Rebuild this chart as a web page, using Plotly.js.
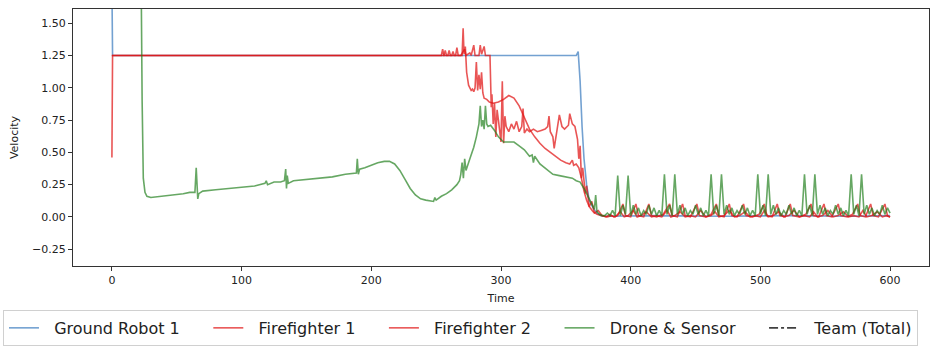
<!DOCTYPE html>
<html>
<head>
<meta charset="utf-8">
<script src="https://cdn.plot.ly/plotly-3.0.1.min.js"></script>
<style>
  body { margin: 0; background: #fff; }
  #chart { width: 938px; height: 348px; }
</style>
</head>
<body>
<div id="chart"></div>
<script>
// series (time in s, velocity)
var robotTime = [0, 0.5, 100, 200, 300, 358, 359.5, 361, 362.5, 364, 366, 368, 371, 374, 377, 380, 420, 470, 520, 570, 600];
var robotVel  = [1.8, 1.25, 1.25, 1.25, 1.25, 1.25, 1.28, 1.05, 0.7, 0.45, 0.25, 0.13, 0.07, 0.03, 0.01, 0.005, 0.01, 0.005, 0.01, 0.005, 0.01];

var ff1Time = [0, 0.5, 100, 200, 254, 255, 256, 259, 260, 261, 265, 266, 267, 270, 270.8, 271.5, 272.5, 273.5, 275, 276, 277, 278, 279, 280, 281, 282, 283, 284, 285, 286, 287, 289, 291, 294, 298, 302, 306, 310, 314, 318, 322, 326, 330, 334, 338, 342, 346, 350, 353, 355, 356, 358, 360, 362, 364, 366, 368, 371, 374, 378,
  381, 384, 387, 390, 394, 396, 400, 404, 406, 410, 414, 416, 420, 425, 430, 432, 436, 440, 442, 446, 451, 453, 458, 462, 466, 468, 472, 476, 478, 482, 487, 489, 494, 499, 503, 505, 509, 513, 515, 519, 523, 525, 530, 535, 539, 541, 545, 549, 551, 555, 560, 562, 567, 571, 575, 577, 581, 585, 587, 591, 596, 598, 600];
var ff1Vel  = [0.46, 1.25, 1.25, 1.25, 1.25, 1.3, 1.25, 1.25, 1.29, 1.25, 1.25, 1.31, 1.25, 1.25, 1.46, 1.26, 1.32, 1.12, 1.02, 1.0, 0.98, 0.99, 0.97, 1.0, 1.2, 0.98, 1.1, 0.99, 1.12, 0.96, 0.92, 0.91, 0.89, 0.88, 0.89, 0.91, 0.94, 0.92, 0.86, 0.77, 0.68, 0.62, 0.57, 0.53, 0.5, 0.47, 0.44, 0.42, 0.41, 0.44, 0.4, 0.41, 0.38, 0.3, 0.2, 0.13, 0.08, 0.04, 0.02, 0.01,
  0.0, 0.02, 0.0, 0.01, 0.1, 0.01, 0.0, 0.1, 0.01, 0.0, 0.1, 0.01, 0.0, 0.02, 0.1, 0.01, 0.0, 0.1, 0.01, 0.0, 0.1, 0.01, 0.0, 0.02, 0.1, 0.01, 0.0, 0.1, 0.01, 0.0, 0.1, 0.01, 0.0, 0.02, 0.1, 0.01, 0.0, 0.1, 0.01, 0.0, 0.1, 0.01, 0.0, 0.02, 0.1, 0.01, 0.0, 0.1, 0.01, 0.0, 0.1, 0.01, 0.0, 0.02, 0.1, 0.01, 0.0, 0.1, 0.01, 0.0, 0.1, 0.01, 0.0];

var ff2Time = [0, 100, 200, 256, 257, 258, 262, 263, 264, 269, 272, 273, 276, 277, 279, 280, 283, 284, 285, 287, 288, 291.5, 292.5, 293, 294, 295, 296, 297, 298, 299, 300, 301, 302, 303, 304, 306, 308, 310, 312, 314, 316, 317, 318, 320, 322, 325, 328, 331, 334, 336, 337, 338, 340, 341, 343, 345, 347, 349, 352, 353, 355, 357, 359, 360, 361, 362, 363, 365, 366, 368, 370, 372, 375, 378,
  382, 385, 388, 392, 395, 398, 402, 405, 408, 412, 416, 420, 424, 428, 431, 434, 438, 442, 446, 450, 454, 458, 462, 465, 468, 472, 476, 480, 484, 488, 492, 496, 500, 503, 506, 510, 514, 518, 522, 526, 530, 534, 538, 541, 544, 548, 552, 556, 560, 564, 568, 572, 576, 579, 582, 586, 590, 594, 597, 600];
var ff2Vel  = [1.25, 1.25, 1.25, 1.25, 1.29, 1.25, 1.25, 1.28, 1.25, 1.25, 1.3, 1.25, 1.27, 1.25, 1.33, 1.25, 1.25, 1.33, 1.26, 1.32, 1.25, 1.25, 0.85, 0.95, 0.72, 0.88, 0.62, 0.83, 0.75, 0.68, 0.58, 1.05, 0.57, 0.78, 0.7, 0.66, 0.72, 0.68, 0.74, 0.66, 0.7, 0.84, 0.65, 0.68, 0.66, 0.68, 0.66, 0.67, 0.68, 0.7, 0.78, 0.66, 0.62, 0.53, 0.66, 0.79, 0.7, 0.68, 0.71, 0.8, 0.72, 0.7, 0.6, 0.45, 0.55, 0.3, 0.38, 0.18, 0.24, 0.08, 0.12, 0.03, 0.05, 0.01,
  0.0, 0.01, 0.0, 0.04, 0.0, 0.01, 0.05, 0.0, 0.01, 0.04, 0.0, 0.01, 0.0, 0.05, 0.0, 0.01, 0.04, 0.0, 0.01, 0.0, 0.05, 0.0, 0.01, 0.04, 0.0, 0.01, 0.05, 0.0, 0.01, 0.04, 0.0, 0.01, 0.0, 0.05, 0.0, 0.01, 0.04, 0.0, 0.01, 0.05, 0.0, 0.01, 0.0, 0.04, 0.0, 0.01, 0.05, 0.0, 0.01, 0.04, 0.0, 0.01, 0.0, 0.05, 0.0, 0.01, 0.04, 0.0, 0.01, 0.0];

var droneTime = [0, 22.5, 23.3, 24.2, 25.5, 27, 30, 35, 40, 45, 50, 55, 60, 64, 65, 65.6, 66.2, 67, 70, 80, 90, 100, 110, 118, 119, 120, 125, 130, 133, 134, 134.6, 135.2, 136, 140, 150, 160, 170, 180, 186, 188.5, 189.2, 190, 191, 195, 200, 205, 210, 214, 218, 222, 226, 230, 234, 238, 242, 246, 248, 249, 250, 254, 258, 262, 266, 268, 269, 270, 271, 272, 273, 276, 279, 281, 283, 284, 285, 286, 287, 288, 289, 290, 292, 295, 298, 302, 306, 310, 314, 318, 322, 324, 325, 326, 330, 335, 340, 345, 350, 355, 358, 361, 364, 367, 370, 372, 373, 374, 376, 378,
  380, 382, 384, 386, 388, 390, 392, 394, 396, 398, 400, 402, 404, 406, 408, 410, 412, 414, 416, 418, 420, 422, 424, 426, 428, 430, 432, 434, 436, 438, 440, 442, 444, 446, 448, 450, 452, 454, 456, 458, 460, 462, 464, 466, 468, 470, 472, 474, 476, 478, 480, 482, 484, 486, 488, 490, 492, 494, 496, 498, 500, 502, 504, 506, 508, 510, 512, 514, 516, 518, 520, 522, 524, 526, 528, 530, 532, 534, 536, 538, 540, 542, 544, 546, 548, 550, 552, 554, 556, 558, 560, 562, 564, 566, 568, 570, 572, 574, 576, 578, 580, 582, 584, 586, 588, 590, 592, 594, 596, 598, 600];
var droneVel  = [1.9, 1.9, 0.9, 0.3, 0.19, 0.16, 0.15, 0.155, 0.16, 0.17, 0.175, 0.18, 0.19, 0.19, 0.38, 0.17, 0.14, 0.18, 0.2, 0.21, 0.22, 0.23, 0.24, 0.26, 0.28, 0.25, 0.27, 0.27, 0.28, 0.37, 0.22, 0.32, 0.26, 0.28, 0.29, 0.3, 0.31, 0.33, 0.34, 0.34, 0.45, 0.33, 0.37, 0.38, 0.4, 0.42, 0.43, 0.43, 0.41, 0.36, 0.29, 0.22, 0.17, 0.14, 0.13, 0.12, 0.12, 0.15, 0.13, 0.16, 0.18, 0.21, 0.25, 0.28, 0.33, 0.42, 0.3, 0.45, 0.36, 0.45, 0.54, 0.62, 0.72, 0.86, 0.7, 0.75, 0.68, 0.86, 0.72, 0.7, 0.71, 0.67, 0.62, 0.58, 0.58, 0.58, 0.55, 0.52, 0.47, 0.48, 0.42, 0.47, 0.41, 0.37, 0.33, 0.32, 0.31, 0.3, 0.28, 0.27, 0.22, 0.16, 0.1, 0.06, 0.17, 0.04, 0.02, 0.01,
  0.01, 0.03, 0.01, 0.05, 0.01, 0.32, 0.01, 0.09, 0.02, 0.32, 0.01, 0.09, 0.02, 0.07, 0.01, 0.05, 0.02, 0.09, 0.02, 0.07, 0.01, 0.05, 0.01, 0.33, 0.02, 0.09, 0.01, 0.33, 0.02, 0.09, 0.02, 0.07, 0.01, 0.05, 0.02, 0.09, 0.02, 0.07, 0.01, 0.05, 0.01, 0.33, 0.02, 0.09, 0.01, 0.33, 0.02, 0.09, 0.02, 0.07, 0.01, 0.05, 0.02, 0.09, 0.02, 0.07, 0.01, 0.05, 0.01, 0.33, 0.02, 0.09, 0.01, 0.33, 0.02, 0.09, 0.02, 0.07, 0.01, 0.05, 0.02, 0.09, 0.02, 0.07, 0.01, 0.05, 0.01, 0.33, 0.02, 0.09, 0.01, 0.33, 0.02, 0.09, 0.02, 0.07, 0.01, 0.05, 0.02, 0.09, 0.02, 0.07, 0.01, 0.05, 0.01, 0.33, 0.02, 0.09, 0.01, 0.33, 0.02, 0.09, 0.02, 0.07, 0.01, 0.05, 0.02, 0.09, 0.02, 0.07, 0.03];

// team total never shows inside the visible range, only in the legend
var teamTime = [null];
var teamVel = [null];

var names = ['Ground Robot 1', 'Firefighter 1', 'Firefighter 2', 'Drone & Sensor', 'Team (Total)'];

// a little padding so the legend spreads like the original
function pad(s, last) {
    return '\u00a0\u00a0' + s + (last ? '' : '\u00a0\u00a0\u00a0\u00a0\u2009');
}

function line(x, y, name, color, dash, last) {
    return {
        x: x,
        y: y,
        name: pad(name, last),
        type: 'scatter',
        mode: 'lines',
        line: { color: color, width: 1.6, dash: dash || 'solid' }
    };
}

var traces = [
    line(robotTime, robotVel, names[0], 'rgba(40,110,185,0.65)'),
    line(ff1Time, ff1Vel, names[1], 'rgba(225,20,20,0.72)'),
    line(ff2Time, ff2Vel, names[2], 'rgba(225,20,20,0.72)'),
    line(droneTime, droneVel, names[3], 'rgba(30,125,25,0.68)'),
    line(teamTime, teamVel, names[4], '#404040', 'dashdot', true)
];

var axisStyle = {
    showgrid: false,
    zeroline: false,
    showline: true,
    mirror: true,
    linecolor: '#333',
    linewidth: 1,
    ticks: 'outside',
    ticklen: 4,
    tickcolor: '#333',
    tickfont: { family: 'DejaVu Sans', size: 11, color: '#222' }
};

var layout = {
    width: 938,
    height: 348,
    margin: { l: 73, r: 9, t: 9, b: 82, autoexpand: false },
    paper_bgcolor: '#fff',
    plot_bgcolor: '#fff',
    font: { family: 'DejaVu Sans', color: '#222' },
    xaxis: Object.assign({}, axisStyle, {
        range: [-30, 630],
        tickvals: [0, 100, 200, 300, 400, 500, 600],
        title: { text: 'Time', font: { size: 11 }, standoff: 8 }
    }),
    yaxis: Object.assign({}, axisStyle, {
        range: [-0.38, 1.61],
        tickvals: [-0.25, 0, 0.25, 0.5, 0.75, 1.0, 1.25, 1.5],
        ticktext: ['\u22120.25', '0.00', '0.25', '0.50', '0.75', '1.00', '1.25', '1.50'],
        title: { text: 'Velocity', font: { size: 11 }, standoff: 11 }
    }),
    showlegend: true,
    legend: {
        orientation: 'h',
        x: -0.0818,
        xanchor: 'left',
        y: -0.171,
        yanchor: 'top',
        bordercolor: '#d0d0d0',
        borderwidth: 1,
        font: { family: 'DejaVu Sans', size: 16, color: '#222' }
    }
};

Plotly.newPlot('chart', traces, layout, { staticPlot: true });
</script>
</body>
</html>
